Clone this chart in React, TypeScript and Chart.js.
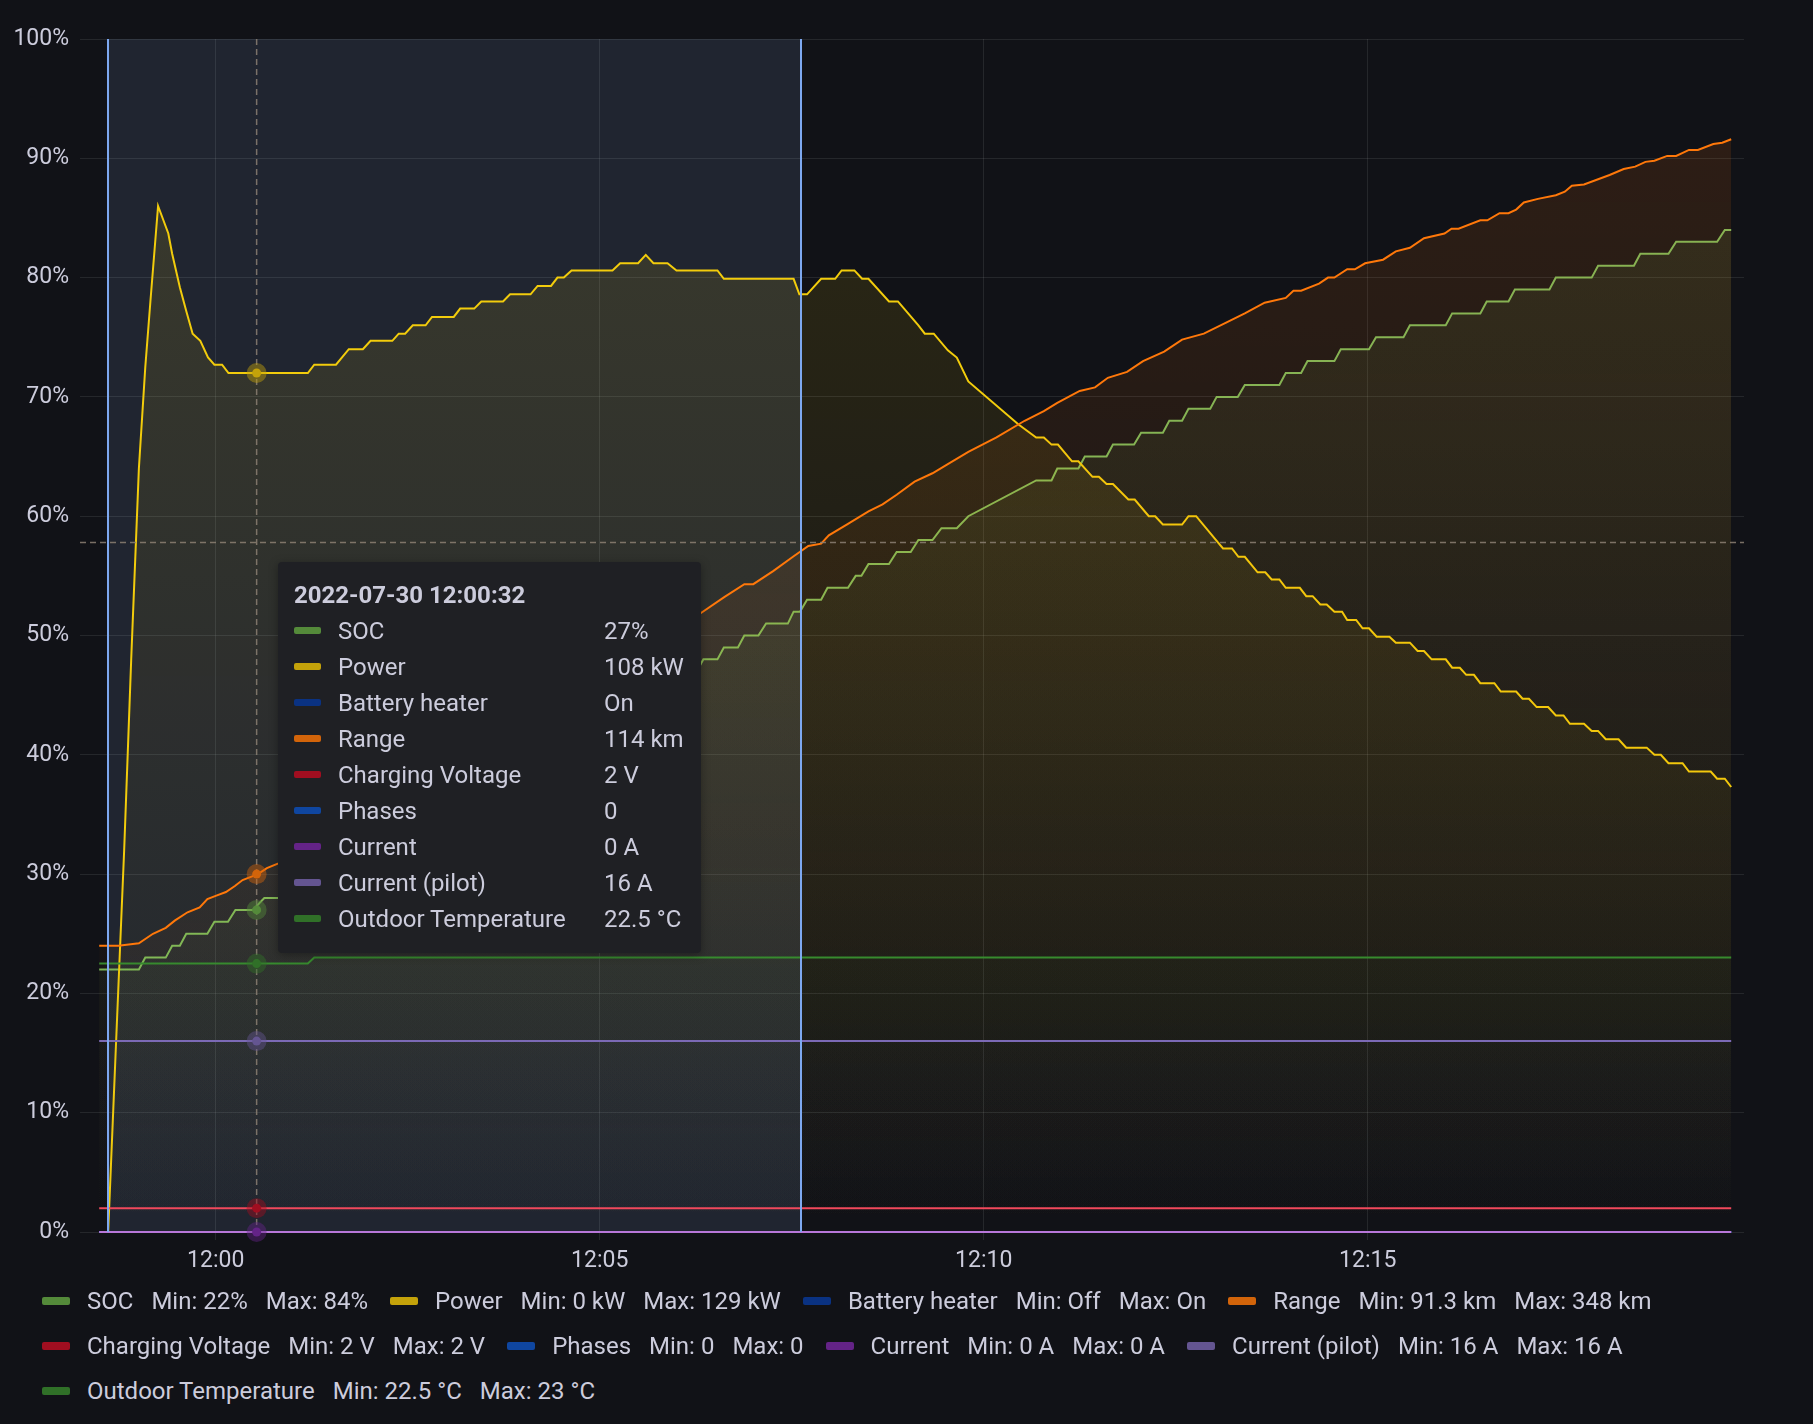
import React, { useEffect, useRef } from "react";
import { Chart, registerables } from "chart.js";

Chart.register(...registerables);

// ---------- data (x = seconds after 12:00:00, y = percent of axis) ----------
const seriesNames = [
  "SOC",
  "Power",
  "Battery heater",
  "Range",
  "Charging Voltage",
  "Phases",
  "Current",
  "Current (pilot)",
  "Outdoor Temperature",
];
const lineColors = ["#7ab95b", "#f2cc0c", "#1f60c4", "#ff780a", "#f2495c", "#3274d9", "#b877d9", "#7d69b8", "#378a2e"];
const swatchColors = ["#548a3a", "#c4a20a", "#0a3282", "#d2640a", "#a00e20", "#0f46a0", "#642387", "#645591", "#307028"];
const legendMin = ["22%", "0 kW", "Off", "91.3 km", "2 V", "0", "0 A", "16 A", "22.5 °C"];
const legendMax = ["84%", "129 kW", "On", "348 km", "2 V", "0", "0 A", "16 A", "23 °C"];
const tooltipValues = ["27%", "108 kW", "On", "114 km", "2 V", "0", "0 A", "16 A", "22.5 °C"];
const hoverValues: (number | null)[] = [27, 72, null, 30, 2, null, 0, 16, 22.5];
const tooltipTitle = "2022-07-30 12:00:32";

const xTickValues = [0, 300, 600, 900];
const xTickLabels = ["12:00", "12:05", "12:10", "12:15"];
const yTickValues = [0, 10, 20, 30, 40, 50, 60, 70, 80, 90, 100];
const xMin = -106;
const xMax = 1194;
const regionStart = -84;
const regionEnd = 457;
const hoverTime = 32;
const hoverLevel = 57.8;

const socPoints: [number, number][] = [
  [-91, 22], [-60, 22], [-55, 23], [-39, 23], [-34, 24], [-28, 24], [-23, 25], [-6.5, 25], [-1, 26], [9.6, 26],
  [15.4, 27], [29, 27], [38, 28], [49, 28], [55, 29], [66, 29], [72, 30], [84, 30], [90, 31], [101, 31],
  [107, 32], [118, 32], [124, 33], [136, 33], [142, 34], [153, 34], [159, 35], [171, 35], [177, 36], [188, 36],
  [194, 37], [205, 37], [211, 38], [223, 38], [229, 39], [240, 39], [246, 40], [257, 40], [263, 41], [275, 41],
  [281, 42], [292, 42], [298, 43], [310, 43], [316, 44], [327, 44], [333, 45], [344, 45], [350, 46], [362, 46],
  [367, 47], [376, 47], [381, 48], [392, 48], [397, 49], [408, 49], [413, 50], [424, 50], [430, 51], [447, 51],
  [451.5, 52], [456.5, 52], [462, 53], [473, 53], [478, 54], [494, 54], [500, 55], [504.5, 55], [510, 56], [526, 56],
  [532, 57], [543, 57], [549, 58], [560, 58], [567, 59], [579, 59], [588, 60], [641, 63], [653, 63], [657.5, 64],
  [674, 64], [679, 65], [696, 65], [701, 66], [717.5, 66], [723, 67], [740, 67], [745, 68], [755, 68], [760, 69],
  [777, 69], [782, 70], [798.5, 70], [804, 71], [831, 71], [836, 72], [848, 72], [853, 73], [874, 73], [879, 74],
  [901, 74], [906.5, 75], [928, 75], [933, 76], [961, 76], [966, 77], [988, 77], [993, 78], [1010, 78], [1015, 79],
  [1042, 79], [1047, 80], [1075, 80], [1080, 81], [1108, 81], [1113, 82], [1135, 82], [1141, 83], [1173, 83], [1179, 84],
  [1184, 84],
];

const powerPoints: [number, number][] = [
  [-91, 0], [-84, 0], [-77, 18], [-71.5, 32], [-66, 48], [-60, 64], [-55, 72.5], [-51, 78], [-45, 86], [-37, 83.7],
  [-34, 82], [-28, 79.2], [-23, 77.2], [-18, 75.3], [-12, 74.7], [-6, 73.3], [-1, 72.7], [5, 72.7], [10, 72], [72, 72],
  [77, 72.7], [94, 72.7], [104, 74], [115, 74], [121, 74.7], [138, 74.7], [143, 75.3], [148, 75.3], [154, 76], [164, 76],
  [169, 76.7], [186, 76.7], [191, 77.4], [202, 77.4], [207.5, 78], [224.5, 78], [230, 78.6], [246, 78.6], [251.5, 79.3], [262, 79.3],
  [267, 80], [272, 80], [278, 80.6], [310, 80.6], [316, 81.2], [330, 81.2], [336, 81.9], [342, 81.2], [353, 81.2], [360, 80.6],
  [392, 80.6], [397, 79.9], [451.5, 79.9], [456, 78.6], [462, 78.6], [473, 79.9], [484, 79.9], [489, 80.6], [499, 80.6], [505, 79.9],
  [510, 79.9], [526, 78], [533, 78], [549, 76], [554, 75.3], [561, 75.3], [572, 73.9], [579, 73.3], [588, 71.3], [627, 67.7],
  [641, 66.6], [647, 66.6], [653, 66], [658, 66], [669, 64.6], [674, 64.6], [685, 63.3], [690, 63.3], [696, 62.7], [701, 62.7],
  [713, 61.4], [718, 61.4], [729, 60], [734, 60], [740, 59.3], [755, 59.3], [760, 60], [766, 60], [783, 57.8], [787, 57.3],
  [794, 57.3], [799, 56.6], [804, 56.6], [814, 55.3], [820, 55.3], [825, 54.7], [831, 54.7], [836, 54], [847, 54], [852, 53.3],
  [857, 53.3], [863, 52.6], [868, 52.6], [874, 52], [880, 52], [884, 51.3], [891, 51.3], [896, 50.6], [901, 50.6], [907, 49.9],
  [917, 49.9], [922, 49.4], [933, 49.4], [939, 48.7], [944, 48.7], [950, 48], [961, 48], [966, 47.3], [972, 47.3], [977, 46.7],
  [983, 46.7], [988, 46], [999, 46], [1004, 45.3], [1016, 45.3], [1021, 44.7], [1026, 44.7], [1032, 44], [1041, 44], [1047, 43.3],
  [1053, 43.3], [1058, 42.6], [1069, 42.6], [1075, 42], [1080, 42], [1086, 41.3], [1096, 41.3], [1102, 40.6], [1118, 40.6], [1124, 40],
  [1129, 40], [1135, 39.3], [1146, 39.3], [1151, 38.6], [1168, 38.6], [1173, 38], [1179, 38], [1184, 37.3],
];

const rangePoints: [number, number][] = [
  [-91, 24], [-76, 24], [-60, 24.2], [-49, 25], [-39, 25.5], [-32, 26.1], [-22, 26.8], [-12.5, 27.2], [-6.5, 27.9], [0.5, 28.2],
  [8, 28.5], [15, 29], [21, 29.5], [33, 30], [40, 30.5], [49, 30.9], [60, 31.6], [90, 33.4], [120, 35.3], [150, 37.2],
  [180, 39.1], [210, 41], [240, 42.9], [270, 44.8], [300, 46.7], [330, 48.6], [360, 50.6], [378, 51.8], [397, 53.2], [413, 54.3],
  [420, 54.3], [435.5, 55.4], [451, 56.6], [463, 57.5], [473, 57.7], [479, 58.4], [493, 59.3], [510, 60.4], [521, 61], [532, 61.8],
  [546, 62.9], [560, 63.6], [571, 64.3], [588, 65.4], [610, 66.6], [632, 68], [647, 68.8], [657.5, 69.5], [675, 70.5], [687, 70.8],
  [697, 71.6], [712, 72.1], [724.5, 73], [741, 73.8], [755, 74.8], [772, 75.3], [789, 76.2], [804, 77], [819.5, 77.9], [836, 78.3],
  [842, 78.9], [848, 78.9], [862, 79.5], [869, 80], [874, 80], [884, 80.7], [890, 80.7], [898, 81.2], [912, 81.5], [922, 82.2],
  [933, 82.5], [944, 83.3], [960, 83.7], [965.5, 84.1], [971, 84.1], [988, 84.8], [993.5, 84.8], [1003, 85.4], [1010, 85.4], [1016, 85.7],
  [1022, 86.3], [1033, 86.6], [1047, 86.9], [1054, 87.2], [1059.5, 87.7], [1069, 87.8], [1089, 88.6], [1100, 89.1], [1109, 89.3], [1117, 89.7],
  [1124, 89.8], [1134, 90.2], [1141, 90.2], [1151, 90.7], [1158, 90.7], [1170, 91.2], [1177, 91.3], [1184, 91.6],
];

const batteryHeaterPoints: [number, number][] = [[-91, 0], [1184, 0]];
const voltagePoints: [number, number][] = [[-91, 2], [1184, 2]];
const phasesPoints: [number, number][] = [[-91, 0], [1184, 0]];
const currentPoints: [number, number][] = [[-91, 0], [1184, 0]];
const pilotPoints: [number, number][] = [[-91, 16], [1184, 16]];
const temperaturePoints: [number, number][] = [[-91, 22.5], [72, 22.5], [77, 23], [1184, 23]];

const seriesPoints = [
  socPoints,
  powerPoints,
  batteryHeaterPoints,
  rangePoints,
  voltagePoints,
  phasesPoints,
  currentPoints,
  pilotPoints,
  temperaturePoints,
];

const legendRows = [[0, 1, 2, 3], [4, 5, 6, 7], [8]];

// ---------- styling ----------
const BG = "#111217";
const TEXT = "rgb(204,204,220)";
const GRID = "rgba(240,250,255,0.09)";
const FONT = "Roboto, 'Noto Sans', sans-serif";

function hexToRgba(hex: string, a: number) {
  const h = hex.replace("#", "");
  const r = parseInt(h.slice(0, 2), 16);
  const g = parseInt(h.slice(2, 4), 16);
  const b = parseInt(h.slice(4, 6), 16);
  return `rgba(${r},${g},${b},${a})`;
}

const overlayPlugin = {
  id: "grafanaOverlay",
  beforeDatasetsDraw(chart: any) {
    const { ctx, chartArea: a, scales } = chart;
    const x0 = scales.x.getPixelForValue(regionStart);
    const x1 = scales.x.getPixelForValue(regionEnd);
    ctx.save();
    ctx.fillStyle = "rgba(150,185,231,0.12)";
    ctx.fillRect(x0, a.top, x1 - x0, a.bottom - a.top);
    ctx.restore();
  },
  afterDatasetsDraw(chart: any) {
    const { ctx, chartArea: a, scales } = chart;
    const x0 = scales.x.getPixelForValue(regionStart);
    const x1 = scales.x.getPixelForValue(regionEnd);
    ctx.save();
    ctx.strokeStyle = "rgb(125,168,240)";
    ctx.lineWidth = 2;
    for (const xx of [x0, x1]) {
      ctx.beginPath();
      ctx.moveTo(Math.round(xx), a.top);
      ctx.lineTo(Math.round(xx), a.bottom);
      ctx.stroke();
    }
    // crosshair
    const hx = scales.x.getPixelForValue(hoverTime);
    const hy = scales.y.getPixelForValue(hoverLevel);
    ctx.strokeStyle = "rgba(140,128,115,0.85)";
    ctx.lineWidth = 1.5;
    ctx.setLineDash([6, 4]);
    ctx.beginPath();
    ctx.moveTo(hx, a.top);
    ctx.lineTo(hx, a.bottom);
    ctx.stroke();
    ctx.beginPath();
    ctx.moveTo(a.left, hy);
    ctx.lineTo(a.right, hy);
    ctx.stroke();
    ctx.setLineDash([]);
    // hover markers
    hoverValues.forEach((v, i) => {
      if (v === null) return;
      const py = scales.y.getPixelForValue(v);
      ctx.fillStyle = hexToRgba(swatchColors[i], 0.45);
      ctx.beginPath();
      ctx.arc(hx, py, 10, 0, Math.PI * 2);
      ctx.fill();
      ctx.fillStyle = swatchColors[i];
      ctx.beginPath();
      ctx.arc(hx, py, 4.5, 0, Math.PI * 2);
      ctx.fill();
    });
    ctx.restore();
  },
};

function ChartCanvas() {
  const ref = useRef<HTMLCanvasElement | null>(null);
  useEffect(() => {
    if (!ref.current) return;
    const datasets = seriesNames.map((name, i) => ({
      label: name,
      data: seriesPoints[i].map(([x, y]) => ({ x, y })),
      borderColor: lineColors[i],
      borderWidth: 2,
      pointRadius: 0,
      tension: 0,
      clip: false,
      fill: "origin",
      order: seriesNames.length - i,
      backgroundColor: (c: any) => {
        const area = c.chart.chartArea;
        if (!area) return "transparent";
        const g = c.chart.ctx.createLinearGradient(0, area.top, 0, area.bottom);
        g.addColorStop(0, hexToRgba(lineColors[i], 0.13));
        g.addColorStop(1, hexToRgba(lineColors[i], 0));
        return g;
      },
    }));
    const chart = new Chart(ref.current, {
      type: "line",
      data: { datasets } as any,
      options: {
        animation: false,
        responsive: false,
        maintainAspectRatio: false,
        events: [],
        layout: { padding: { top: 39, right: 69, left: 0, bottom: 0 } },
        plugins: { legend: { display: false }, tooltip: { enabled: false } },
        scales: {
          x: {
            type: "linear",
            min: xMin,
            max: xMax,
            afterBuildTicks: (s: any) => {
              s.ticks = xTickValues.map((v) => ({ value: v }));
            },
            afterFit: (s: any) => {
              s.height = 58;
            },
            ticks: {
              autoSkip: false,
              maxRotation: 0,
              color: TEXT,
              padding: 7,
              font: { family: FONT, size: 23 },
              callback: (v: any) => {
                const k = xTickValues.indexOf(Number(v));
                return k >= 0 ? xTickLabels[k] : "";
              },
            },
            grid: { color: GRID, tickLength: 8, drawTicks: true },
            border: { display: false },
          },
          y: {
            min: 0,
            max: 100,
            afterBuildTicks: (s: any) => {
              s.ticks = yTickValues.map((v) => ({ value: v }));
            },
            afterFit: (s: any) => {
              s.width = 80;
            },
            ticks: {
              color: TEXT,
              padding: 11,
              font: { family: FONT, size: 23 },
              callback: (v: any) => `${v}%`,
            },
            grid: { color: GRID, drawTicks: false },
            border: { display: false },
          },
        },
      } as any,
      plugins: [overlayPlugin],
    });
    return () => chart.destroy();
  }, []);
  return (
    <canvas
      ref={ref}
      width={1813}
      height={1290}
      style={{ position: "absolute", left: 0, top: 0, width: 1813, height: 1290 }}
    />
  );
}

function Tooltip() {
  return (
    <div
      style={{
        position: "absolute",
        left: 278,
        top: 562,
        width: 423,
        height: 391,
        background: "#1f2024",
        borderRadius: 4,
        boxShadow: "0 2px 10px rgba(0,0,0,0.35)",
        fontFamily: FONT,
        fontSize: 24,
        color: TEXT,
      }}
    >
      <div
        style={{
          position: "absolute",
          left: 16,
          top: 14.7,
          height: 36,
          lineHeight: "36px",
          fontWeight: 700,
          whiteSpace: "nowrap",
        }}
      >
        {tooltipTitle}
      </div>
      {seriesNames.map((name, i) => (
        <div
          key={name}
          style={{ position: "absolute", left: 0, top: 50.7 + i * 36, height: 36, width: 423, lineHeight: "36px", whiteSpace: "nowrap" }}
        >
          <span
            style={{
              position: "absolute",
              left: 16,
              top: 14.5,
              width: 27,
              height: 7,
              borderRadius: 2,
              background: swatchColors[i],
            }}
          />
          <span style={{ position: "absolute", left: 60 }}>{name}</span>
          <span style={{ position: "absolute", left: 326 }}>{tooltipValues[i]}</span>
        </div>
      ))}
    </div>
  );
}

function Legend() {
  return (
    <>
      {legendRows.map((row, r) => (
        <div
          key={r}
          style={{
            position: "absolute",
            left: 42,
            top: 1278.5 + r * 45,
            height: 45,
            display: "flex",
            alignItems: "center",
            fontFamily: FONT,
            fontSize: 24,
            color: TEXT,
            whiteSpace: "nowrap",
          }}
        >
          {row.map((i) => (
            <div key={i} style={{ display: "flex", alignItems: "center", marginRight: 22 }}>
              <span
                style={{
                  display: "inline-block",
                  width: 28,
                  height: 8,
                  borderRadius: 2,
                  background: swatchColors[i],
                  marginRight: 17,
                }}
              />
              <span>{seriesNames[i]}</span>
              <span style={{ marginLeft: 18 }}>Min: {legendMin[i]}</span>
              <span style={{ marginLeft: 18 }}>Max: {legendMax[i]}</span>
            </div>
          ))}
        </div>
      ))}
    </>
  );
}

export default function App() {
  return (
    <div
      style={{
        position: "absolute",
        left: 0,
        top: 0,
        width: 1813,
        height: 1424,
        background: BG,
        overflow: "hidden",
      }}
    >
      <ChartCanvas />
      <Tooltip />
      <Legend />
    </div>
  );
}
